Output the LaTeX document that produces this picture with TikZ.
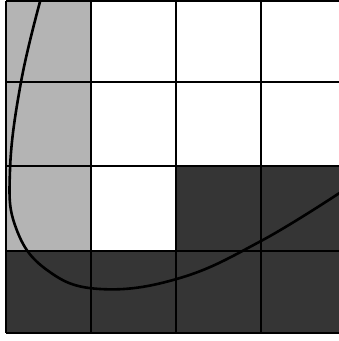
\documentclass[tikz,border=0pt]{standalone}
\definecolor{lightg}{HTML}{B4B4B4}
\definecolor{darkg}{HTML}{353535}
\begin{document}
\begin{tikzpicture}[x=1pt,y=-1pt,
  gridline/.style={line width=2pt,draw=black},
  curveline/.style={line width=2.6pt,line cap=round}]
\useasboundingbox (0,0) rectangle (339,341);
\clip (0,0) rectangle (339,341);
\fill[white] (0,0) rectangle (339,341);
% light column
\fill[lightg] (6,1) rectangle (91,251);
% dark bottom row
\fill[darkg] (6,251) rectangle (350,333);
% dark cells row 3
\fill[darkg] (176,166) rectangle (350,251);
% grid
\foreach \x in {6,91,176,261} \draw[gridline] (\x,1) -- (\x,333);
\foreach \y in {1,82,166,251,333} \draw[gridline] (6,\y) -- (350,\y);
% curve
\draw[curveline] plot[smooth,tension=0.7] coordinates {(41,-2) (21,82) (10,170) (16,228) (47,270) (100,289) (180,278) (261,241) (341,192)};
\end{tikzpicture}
\end{document}
